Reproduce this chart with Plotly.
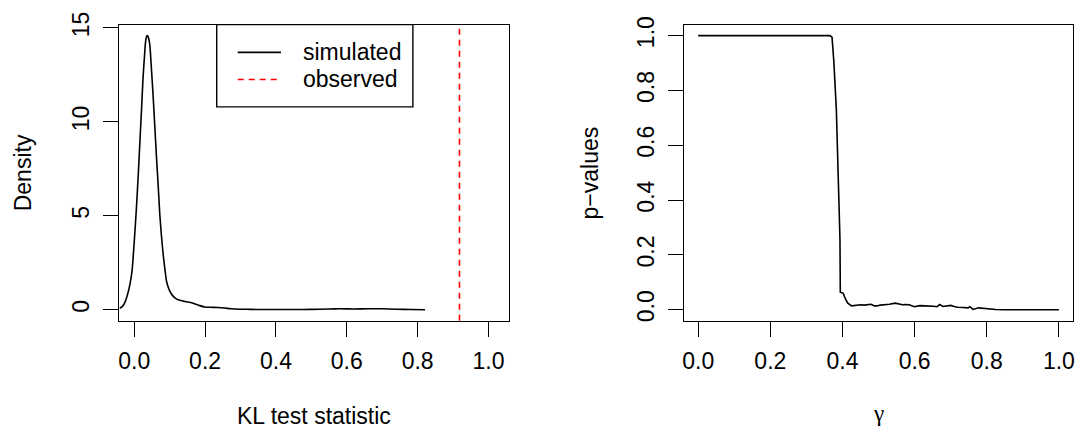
import plotly.graph_objects as go

W, H = 1084, 433

# ---- data: left panel (density of simulated KL statistic) ----
kl_x = [-0.041, -0.033, -0.026, -0.019, -0.012, -0.006, 0.0, 0.0065, 0.012, 0.016,
        0.021, 0.025, 0.029, 0.032, 0.035, 0.037, 0.040, 0.044, 0.048, 0.053,
        0.058, 0.063, 0.068, 0.072, 0.077, 0.082, 0.087, 0.091, 0.098, 0.105,
        0.114, 0.124, 0.138, 0.152, 0.162, 0.170, 0.185, 0.199, 0.215, 0.236,
        0.255, 0.274, 0.30, 0.33, 0.36, 0.40, 0.45, 0.50, 0.55, 0.58,
        0.62, 0.66, 0.70, 0.74, 0.78, 0.821]
kl_density = [0.07, 0.18, 0.41, 0.8, 1.36, 2.1, 3.6, 5.49, 7.4, 8.93,
              10.8, 12.37, 13.5, 14.26, 14.55, 14.6, 14.5, 14.1, 13.0, 11.5,
              9.8, 8.07, 6.5, 5.14, 3.9, 2.9, 2.1, 1.53, 1.1, 0.84,
              0.65, 0.53, 0.46, 0.41, 0.37, 0.32, 0.22, 0.15, 0.13, 0.12,
              0.09, 0.05, 0.03, 0.02, 0.01, 0.01, 0.01, 0.02, 0.04, 0.05,
              0.04, 0.05, 0.05, 0.03, 0.01, 0.0]
kl_observed = 0.918

# ---- data: right panel (p-values vs gamma) ----
gamma = [0.0, 0.365, 0.371, 0.376, 0.383, 0.388, 0.393, 0.394, 0.402, 0.406,
         0.414, 0.425, 0.435, 0.443, 0.451, 0.46, 0.471, 0.479, 0.489, 0.494,
         0.505, 0.518, 0.53, 0.546, 0.556, 0.566, 0.575, 0.585, 0.599, 0.614,
         0.628, 0.642, 0.652, 0.662, 0.669, 0.679, 0.69, 0.70, 0.71, 0.719,
         0.735, 0.748, 0.753, 0.762, 0.777, 0.796, 0.81, 0.825, 0.85, 0.88,
         0.901, 0.92, 0.94, 0.97, 1.0]
pvalues = [1.0, 1.0, 0.994, 0.906, 0.729, 0.493, 0.259, 0.064, 0.06, 0.046,
           0.025, 0.014, 0.016, 0.016, 0.018, 0.017, 0.019, 0.02, 0.014, 0.014,
           0.017, 0.018, 0.02, 0.024, 0.02, 0.018, 0.019, 0.018, 0.011, 0.015,
           0.014, 0.014, 0.013, 0.011, 0.019, 0.012, 0.014, 0.016, 0.012, 0.009,
           0.008, 0.007, 0.011, 0.001, 0.007, 0.004, 0.002, 0.001, 0.0, 0.0,
           0.0, 0.002, 0.0, 0.0, 0.0]

x_ticks = [0.0, 0.2, 0.4, 0.6, 0.8, 1.0]
x_ticktext = ["0.0", "0.2", "0.4", "0.6", "0.8", "1.0"]
kl_yticks = [0, 5, 10, 15]
kl_yticktext = ["0", "5", "10", "15"]
p_yticks = [0.0, 0.2, 0.4, 0.6, 0.8, 1.0]
p_yticktext = ["0.0", "0.2", "0.4", "0.6", "0.8", "1.0"]

legend_labels = ["simulated", "observed"]

FONT = "Liberation Sans, Arial, Helvetica, sans-serif"
SERIF = "Liberation Serif, Times New Roman, serif"
FS = 23
LW = 1.4
DASH = "6px,5px"


def px(x):
    return x / W


def py(y):
    return 1 - y / H


fig = go.Figure()
fig.add_trace(go.Scatter(x=kl_x, y=kl_density, mode="lines", xaxis="x", yaxis="y",
                         line=dict(color="black", width=1.6, shape="spline", smoothing=0.6),
                         showlegend=False, name=legend_labels[0]))
fig.add_trace(go.Scatter(x=gamma, y=pvalues, mode="lines", xaxis="x2", yaxis="y2",
                         line=dict(color="black", width=1.6),
                         showlegend=False, name="p-values"))

axis_common = dict(showline=True, mirror=True, linecolor="black", linewidth=LW,
                   ticks="outside", ticklen=14.7, tickwidth=LW, tickcolor="black",
                   showgrid=False, zeroline=False,
                   tickfont=dict(family=FONT, size=FS, color="black"),
                   ticklabelstandoff=5)

yd = [py(318), py(12)]
fig.update_layout(
    width=W, height=H, margin=dict(l=0, r=0, t=0, b=0),
    paper_bgcolor="white", plot_bgcolor="white",
    xaxis=dict(domain=[px(117.7), px(509.3)], range=[-0.0422, 1.059],
               tickvals=x_ticks, ticktext=x_ticktext, anchor="y", **axis_common),
    yaxis=dict(domain=yd, range=[-0.584, 15.18], tickvals=kl_yticks,
               ticktext=kl_yticktext, tickangle=-90, anchor="x", **axis_common),
    xaxis2=dict(domain=[px(684.3), px(1075.3)], range=[-0.04, 1.04],
                tickvals=x_ticks, ticktext=x_ticktext, anchor="y2", **axis_common),
    yaxis2=dict(domain=yd, range=[-0.04, 1.04], tickvals=p_yticks,
                ticktext=p_yticktext, tickangle=-90, anchor="x2", **axis_common),
    showlegend=False,
)

# observed value line
fig.add_shape(type="line", xref="x", yref="y domain", x0=kl_observed, x1=kl_observed,
              y0=0, y1=1, line=dict(color="red", width=1.6, dash=DASH))

# legend box
fig.add_shape(type="rect", xref="paper", yref="paper", x0=px(215.5), x1=px(412.4),
              y0=py(97), y1=py(12), line=dict(color="black", width=LW), fillcolor="white")
fig.add_shape(type="line", xref="paper", yref="paper", x0=px(236.6), x1=px(280),
              y0=py(40.7), y1=py(40.7), line=dict(color="black", width=1.6))
fig.add_shape(type="line", xref="paper", yref="paper", x0=px(236.6), x1=px(280),
              y0=py(68.7), y1=py(68.7), line=dict(color="red", width=1.6, dash=DASH))
for lab, yy in zip(legend_labels, [40.7, 68.7]):
    fig.add_annotation(text=lab, xref="paper", yref="paper", x=px(300), y=py(yy),
                       xanchor="left", yanchor="middle", showarrow=False,
                       font=dict(family=FONT, size=FS, color="black"))

# axis titles
titles = [
    ("KL test statistic", px(313.5), py(416.5), 0, FONT),
    ("γ", px(879.8), py(414), 0, SERIF),
    ("Density", px(20.7), py(165), -90, FONT),
    ("p−values", px(590), py(165), -90, FONT),
]
for t, xx, yy, ang, fam in titles:
    fig.add_annotation(text=t, xref="paper", yref="paper", x=xx, y=yy,
                       xanchor="center", yanchor="middle", showarrow=False, textangle=ang,
                       font=dict(family=fam, size=FS, color="black"))

fig.write_html("out.html", config={"displayModeBar": False},
               post_script="document.body.style.margin='0px';document.body.style.overflow='hidden';")
